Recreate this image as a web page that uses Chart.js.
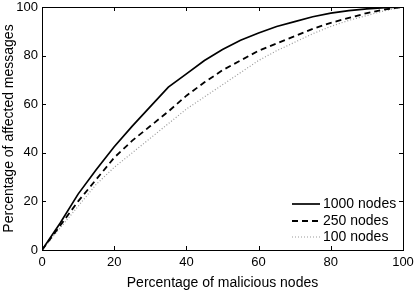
<!DOCTYPE html>
<html>
<head>
<meta charset="utf-8">
<script src="https://cdn.jsdelivr.net/npm/chart.js@4/dist/chart.umd.min.js"></script>
<style>
html,body{margin:0;padding:0;background:#fff;}
#wrap{width:415px;height:294px;position:relative;}
</style>
</head>
<body>
<div id="wrap"><canvas id="c" width="415" height="294"></canvas></div>
<script>
const xValues = [0,5,10,15,20,25,30,35,40,45,50,55,60,65,70,75,80,85,90,95,100];
const nodes1000 = [0,11,23,33,42.5,51,59,67,72.5,78,82.5,86.3,89.3,92,94,96,97.5,98.5,99.2,99.7,100];
const nodes250  = [0,10,20,29,38,45,51,57,63.5,69,74,78,82,85,88,91,93.5,95.5,97.5,99,100];
const nodes100  = [0,9,18,27,34,40,46,52,58,63,68,73,78,82,85.5,89,92,94.5,96.5,98.5,100];
const seriesLabels = ['1000 nodes','250 nodes','100 nodes'];
const tickValues = [0,20,40,60,80,100];

const FONT = 'Liberation Sans, Arial, Helvetica, sans-serif';
const toPts = arr => xValues.map((x,i)=>({x:x,y:arr[i]}));

const styles = [
  {color:'#000', width:1.7, dash:[]},
  {color:'#000', width:1.8, dash:[6,4]},
  {color:'#9a9a9a', width:1.2, dash:[1,2]}
];
const datasets = [nodes1000,nodes250,nodes100].map((arr,i)=>({
  label: seriesLabels[i],
  data: toPts(arr),
  borderColor: styles[i].color,
  borderWidth: styles[i].width,
  borderDash: styles[i].dash,
  pointRadius: 0,
  fill: false,
  tension: 0
}));

const boxPlugin = {
  id:'box',
  afterDatasetsDraw(chart){
    const {ctx, chartArea:a, scales:{x,y}} = chart;
    ctx.save();
    ctx.strokeStyle = '#000';
    ctx.lineWidth = 1;
    ctx.setLineDash([]);
    ctx.strokeRect(Math.round(a.left)+0.5, Math.round(a.top)+0.5, Math.round(a.right-a.left), Math.round(a.bottom-a.top));
    const L = 4;
    tickValues.forEach(v=>{
      const px = Math.round(x.getPixelForValue(v))+0.5;
      ctx.beginPath();
      ctx.moveTo(px, a.bottom); ctx.lineTo(px, a.bottom-L);
      ctx.moveTo(px, a.top); ctx.lineTo(px, a.top+L);
      ctx.stroke();
      const py = Math.round(y.getPixelForValue(v))+0.5;
      ctx.beginPath();
      ctx.moveTo(a.left, py); ctx.lineTo(a.left+L, py);
      ctx.moveTo(a.right, py); ctx.lineTo(a.right-L, py);
      ctx.stroke();
    });
    // legend
    const lx0 = 292, lx1 = 320, tx = 323, rows=[204,221,237];
    chart.data.datasets.forEach((ds,i)=>{
      ctx.beginPath();
      ctx.strokeStyle = ds.borderColor;
      ctx.lineWidth = ds.borderWidth;
      ctx.setLineDash(ds.borderDash);
      ctx.moveTo(lx0, rows[i]); ctx.lineTo(lx1, rows[i]);
      ctx.stroke();
      ctx.setLineDash([]);
      ctx.fillStyle = '#000';
      ctx.font = '14px ' + FONT;
      ctx.textBaseline = 'middle';
      ctx.textAlign = 'left';
      ctx.fillText(ds.label, tx, rows[i]);
    });
    ctx.restore();
  }
};

new Chart(document.getElementById('c'), {
  type:'line',
  data:{datasets},
  options:{
    responsive:false,
    animation:false,
    layout:{padding:{top:7,right:12,left:0,bottom:0}},
    plugins:{legend:{display:false}, tooltip:{enabled:false}},
    scales:{
      x:{
        type:'linear', min:0, max:100,
        afterBuildTicks(s){ s.ticks = tickValues.map(v=>({value:v})); },
        afterFit(s){ s.height = 44; s.paddingLeft = 0; s.paddingRight = 0; },
        grid:{display:false, drawTicks:false},
        border:{display:false},
        ticks:{color:'#000', font:{family:FONT, size:13}, padding:5, maxRotation:0},
        title:{display:true, text:'Percentage of malicious nodes', color:'#000', font:{family:FONT, size:14}, padding:{top:0,bottom:2}}
      },
      y:{
        type:'linear', min:0, max:100,
        afterBuildTicks(s){ s.ticks = tickValues.map(v=>({value:v})); },
        afterFit(s){ s.width = 42; s.paddingTop = 0; s.paddingBottom = 0; },
        grid:{display:false, drawTicks:false},
        border:{display:false},
        ticks:{color:'#000', font:{family:FONT, size:13}, padding:4},
        title:{display:true, text:'Percentage of affected messages', color:'#000', font:{family:FONT, size:14}, padding:{top:1,bottom:0}}
      }
    }
  },
  plugins:[boxPlugin]
});
</script>
</body>
</html>
